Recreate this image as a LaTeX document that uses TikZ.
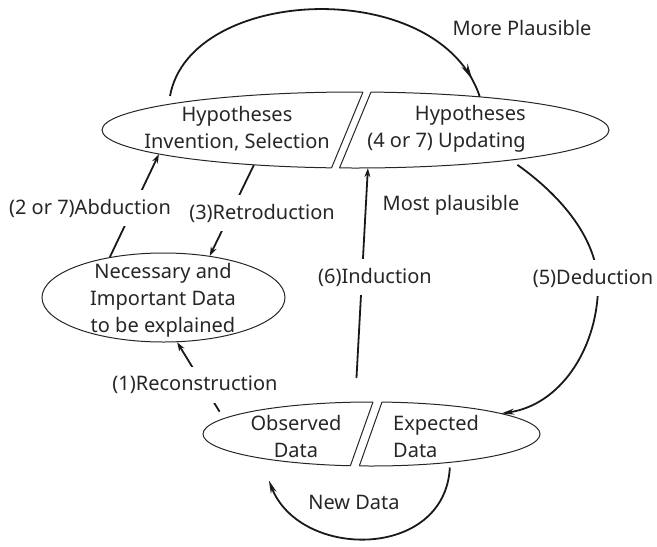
\documentclass[tikz,border=0pt]{standalone}
\usepackage{fontspec}
\setmainfont{Noto Sans}
\usetikzlibrary{shapes.geometric,arrows.meta,decorations.markings,calc}
\begin{document}
\begin{tikzpicture}[x=1pt,y=-1pt,
  txt/.style={font=\fontsize{20}{27}\selectfont, align=center, inner sep=0pt, text=black!85},
  lbl/.style={font=\fontsize{20}{27}\selectfont, fill=white, inner xsep=2pt, inner ysep=9pt, text=black!85},
  plainlbl/.style={font=\fontsize{20}{27}\selectfont, inner sep=0pt, text=black!85},
  ell/.style={ellipse, draw=none, inner sep=0pt},
  shapeline/.style={line width=1pt, draw=black!85},
  conn/.style={line width=1.8pt, draw=black!90},
  smallarrow/.style={-{Stealth[length=9pt,width=6pt]}},
  bigarrow/.style={-{Stealth[length=13pt,width=6pt]}},
]
\useasboundingbox (0,0) rectangle (657,547);

% anchor nodes (outlines drawn below)
\node[ell, minimum width=507pt, minimum height=76pt] (Hyp) at (355.5,130) {};
\node[ell, minimum width=337pt, minimum height=64pt] (Dat) at (371.5,434) {};
\node[ell, shapeline, draw, minimum width=243pt, minimum height=89pt] (Nec) at (163.5,297.5) {};

% top split ellipse
\begin{scope}
  \clip (90,80) -- (368,80) -- (326.4,180) -- (90,180) -- cycle;
  \draw[shapeline] (355.5,130) ellipse [x radius=253.5, y radius=38];
\end{scope}
\draw[shapeline] (363,92) -- (331.5,168);
\begin{scope}
  \clip (376,80) -- (620,80) -- (620,180) -- (334.4,180) -- cycle;
  \draw[shapeline] (355.5,130) ellipse [x radius=253.5, y radius=38];
\end{scope}
\draw[shapeline] (371,92) -- (339.5,168);

% bottom split ellipse
\begin{scope}
  \clip (190,390) -- (377.2,390) -- (345.4,480) -- (190,480) -- cycle;
  \draw[shapeline] (371.5,434) ellipse [x radius=168.5, y radius=32];
\end{scope}
\draw[shapeline] (373,402) -- (350.4,465.7);
\begin{scope}
  \clip (386.2,390) -- (550,390) -- (550,480) -- (354.4,480) -- cycle;
  \draw[shapeline] (371.5,434) ellipse [x radius=168.5, y radius=32];
\end{scope}
\draw[shapeline] (382,402) -- (359.4,465.7);

% texts
\node[txt] (HL) at (237,128.5) {Hypotheses\\Invention, Selection};
\node[txt, align=right] (HR) at (446.5,128.5) {Hypotheses\\(4 or 7) Updating};
\node[txt] (NecT) at (163,300) {Necessary and\\Important Data\\to be explained};
\node[txt] (Obs) at (296,436.5) {Observed\\Data};
\node[txt, align=left, anchor=west] (Exp) at (393,436.5) {Expected\\Data};

% connectors
\draw[conn, postaction={decorate}, decoration={markings, mark=at position -19pt with {\arrow{Stealth[length=16pt,width=7pt]}}}]
  ($(Hyp.172)+(0,-8)$) .. controls (190,-15) and (440,-25) .. (Hyp.15.4);
\draw[conn, smallarrow] (Nec.143.2) -- (Hyp.187.7);
\draw[conn, smallarrow] (Hyp.199.2) -- (Nec.42.9);
\draw[conn, smallarrow, shorten <=8pt] (Dat.174.2) -- (Nec.287);
\draw[conn, smallarrow, shorten <=24pt] (Dat.117.4) -- (Hyp.288.2);
\draw[conn, bigarrow, shorten <=8pt] (Hyp.349) .. controls (560,195) and (600,240) .. (598,290)
  .. controls (596,350) and (560,405) .. (Dat.9.15);
\draw[conn, bigarrow] ($(Dat.340.2)+(0,5)$) .. controls (445,560) and (300,560) .. ($(Dat.194.1)+(0,21)$);

% labels
\node[plainlbl] (mp) at (522,28) {More Plausible};
\node[lbl] (abd) at (90,208) {(2 or 7)Abduction};
\node[lbl] (ret) at (262,213) {(3)Retroduction};
\node[lbl] (rec) at (195,385) {(1)Reconstruction};
\node[plainlbl] (mostp) at (451,205) {Most plausible};
\node[lbl] (ind) at (375,277) {(6)Induction};
\node[lbl] (ded) at (593,278) {(5)Deduction};
\node[plainlbl] (nd) at (354,502) {New Data};
\end{tikzpicture}
\end{document}
